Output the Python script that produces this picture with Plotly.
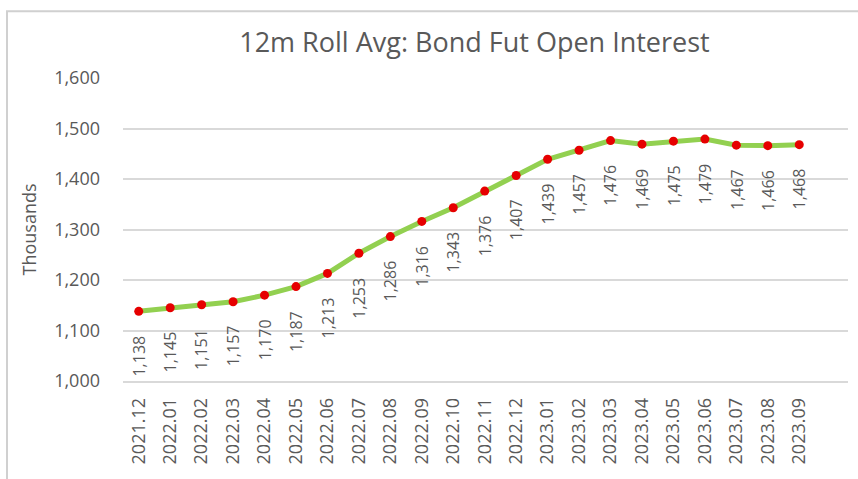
import plotly.graph_objects as go

categories = ["2021.12", "2022.01", "2022.02", "2022.03", "2022.04", "2022.05", "2022.06",
              "2022.07", "2022.08", "2022.09", "2022.10", "2022.11", "2022.12", "2023.01",
              "2023.02", "2023.03", "2023.04", "2023.05", "2023.06", "2023.07", "2023.08",
              "2023.09"]
values = [1138, 1145, 1151, 1157, 1170, 1187, 1213, 1253, 1286, 1316, 1343, 1376, 1407,
          1439, 1457, 1476, 1469, 1475, 1479, 1467, 1466, 1468]
y_ticks = [1000, 1100, 1200, 1300, 1400, 1500, 1600]

FONT = "Open Sans"
GRAY = "#595959"
xs = list(range(len(categories)))

fig = go.Figure()
fig.add_trace(go.Scatter(
    x=xs, y=values, mode="lines+markers",
    line=dict(color="#92D050", width=5),
    marker=dict(color="#E60000", size=9),
    hoverinfo="skip", showlegend=False,
))

for x, v in zip(xs, values):
    fig.add_annotation(
        x=x, y=v, xref="x", yref="y", text=f"{v:,}", showarrow=False,
        textangle=-90, yanchor="top", xanchor="center", yshift=-22,
        font=dict(family=FONT, size=16, color=GRAY),
    )

# outer chart border (only its top and left edges fall inside the page)
fig.add_shape(type="rect", xref="paper", yref="paper", x0=-0.16, x1=1.03, y0=-0.34, y1=1.22,
              line=dict(color="#D0D0D0", width=2), fillcolor="rgba(0,0,0,0)", layer="below")

fig.update_layout(
    width=858, height=479,
    margin=dict(l=123, r=10, t=78, b=98),
    paper_bgcolor="white", plot_bgcolor="white",
    title=dict(text="12m Roll Avg: Bond Fut Open Interest", x=0.553, xanchor="center",
               y=0.912, yanchor="middle",
               font=dict(family=FONT, size=27, color=GRAY)),
    xaxis=dict(
        tickmode="array", tickvals=xs, ticktext=categories, tickangle=-90,
        range=[-0.5, 22.55], showgrid=False, zeroline=False, automargin=False,
        showline=True, linecolor="#D9D9D9", linewidth=1.5,
        ticks="", ticklabelstandoff=8,
        tickfont=dict(family=FONT, size=18, color=GRAY),
    ),
    yaxis=dict(
        range=[1000, 1600], tickvals=y_ticks, tickformat=",",
        showgrid=True, gridcolor="#D9D9D9", gridwidth=1.5, zeroline=False, automargin=False,
        ticks="", ticklabelstandoff=22,
        tickfont=dict(family=FONT, size=18, color=GRAY),
        title=dict(text="Thousands", standoff=12,
                   font=dict(family=FONT, size=18, color=GRAY)),
    ),
)

fig.write_html("out.html", config={"displayModeBar": False},
               post_script="document.body.style.margin='0px';")
